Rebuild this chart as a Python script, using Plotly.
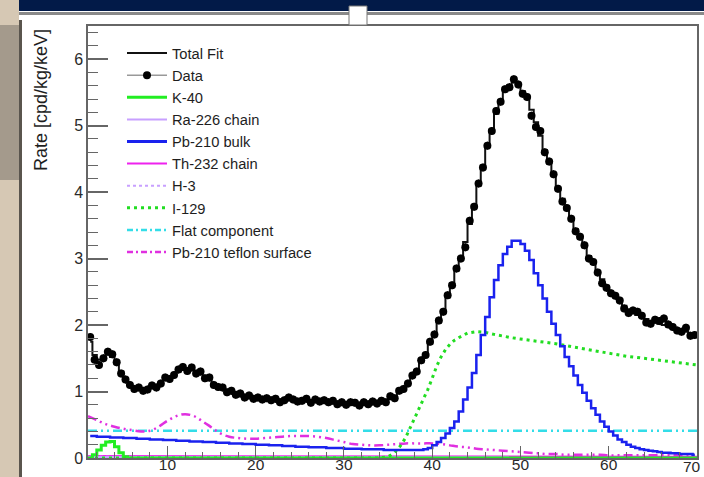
import plotly.graph_objects as go

# ---------------- data ----------------
bin_centers = [1.25 + 0.5 * i for i in range(138)]

data_rate = [1.82, 1.48, 1.40, 1.50, 1.60, 1.56, 1.44, 1.27, 1.18, 1.10,
             1.04, 1.06, 1.01, 1.03, 1.09, 1.06, 1.12, 1.21, 1.19, 1.25,
             1.33, 1.37, 1.31, 1.36, 1.27, 1.30, 1.20, 1.21, 1.10, 1.07,
             1.06, 0.99, 1.01, 0.95, 0.97, 0.91, 0.94, 0.89, 0.91, 0.88,
             0.90, 0.87, 0.89, 0.84, 0.87, 0.91, 0.88, 0.85, 0.86, 0.89,
             0.83, 0.88, 0.85, 0.87, 0.84, 0.86, 0.81, 0.84, 0.80, 0.84,
             0.83, 0.79, 0.84, 0.81, 0.85, 0.82, 0.86, 0.84, 0.93, 0.90,
             1.01, 1.04, 1.12, 1.24, 1.30, 1.47, 1.55, 1.75, 1.86, 2.07,
             2.20, 2.45, 2.60, 2.85, 3.00, 3.17, 3.57, 3.78, 4.13, 4.37,
             4.70, 4.92, 5.22, 5.36, 5.55, 5.58, 5.70, 5.62, 5.48, 5.43,
             5.15, 4.98, 4.92, 4.60, 4.46, 4.27, 4.05, 3.86, 3.76, 3.60,
             3.41, 3.33, 3.20, 3.00, 2.95, 2.79, 2.63, 2.56, 2.48, 2.44,
             2.37, 2.25, 2.18, 2.22, 2.20, 2.14, 2.04, 2.02, 2.08, 2.06,
             2.10, 2.01, 1.97, 1.92, 1.90, 1.96, 1.84, 1.85]

total_fit = [1.75, 1.55, 1.48, 1.52, 1.56, 1.52, 1.42, 1.30, 1.20, 1.12,
             1.07, 1.04, 1.03, 1.04, 1.07, 1.10, 1.14, 1.18, 1.22, 1.26,
             1.30, 1.33, 1.34, 1.33, 1.30, 1.26, 1.22, 1.17, 1.12, 1.08,
             1.04, 1.01, 0.99, 0.97, 0.95, 0.93, 0.92, 0.91, 0.90, 0.90,
             0.89, 0.89, 0.88, 0.88, 0.88, 0.88, 0.87, 0.87, 0.87, 0.87,
             0.86, 0.86, 0.86, 0.85, 0.85, 0.84, 0.84, 0.83, 0.83, 0.82,
             0.82, 0.82, 0.82, 0.82, 0.82, 0.83, 0.84, 0.86, 0.89, 0.93,
             0.98, 1.05, 1.13, 1.22, 1.32, 1.44, 1.57, 1.72, 1.88, 2.04,
             2.22, 2.42, 2.63, 2.82, 3.02, 3.25, 3.52, 3.80, 4.10, 4.40,
             4.68, 4.94, 5.18, 5.38, 5.52, 5.61, 5.65, 5.63, 5.52, 5.40,
             5.24, 5.05, 4.85, 4.63, 4.43, 4.25, 4.07, 3.90, 3.74, 3.59,
             3.44, 3.30, 3.17, 3.04, 2.92, 2.80, 2.69, 2.59, 2.50, 2.42,
             2.35, 2.29, 2.24, 2.19, 2.15, 2.12, 2.09, 2.06, 2.04, 2.02,
             2.00, 1.98, 1.96, 1.94, 1.92, 1.90, 1.88, 1.86]

pb210_bulk = [0.33, 0.33, 0.32, 0.32, 0.32, 0.31, 0.31, 0.31, 0.30, 0.30,
              0.30, 0.29, 0.29, 0.29, 0.28, 0.28, 0.28, 0.27, 0.27, 0.27,
              0.26, 0.26, 0.26, 0.25, 0.25, 0.25, 0.24, 0.24, 0.24, 0.23,
              0.23, 0.23, 0.22, 0.22, 0.22, 0.21, 0.21, 0.21, 0.20, 0.20,
              0.20, 0.19, 0.19, 0.19, 0.18, 0.18, 0.18, 0.17, 0.17, 0.17,
              0.16, 0.16, 0.16, 0.16, 0.15, 0.15, 0.15, 0.15, 0.14, 0.14,
              0.14, 0.14, 0.13, 0.13, 0.13, 0.13, 0.13, 0.12, 0.12, 0.12,
              0.12, 0.12, 0.12, 0.12, 0.12, 0.12, 0.13, 0.15, 0.19, 0.24,
              0.30, 0.37, 0.45, 0.55, 0.70, 0.88, 1.06, 1.28, 1.55, 1.85,
              2.12, 2.42, 2.68, 2.90, 3.07, 3.18, 3.27, 3.27, 3.22, 3.12,
              2.98, 2.78, 2.60, 2.40, 2.20, 2.02, 1.85, 1.68, 1.52, 1.38,
              1.24, 1.10, 0.98, 0.86, 0.75, 0.65, 0.55, 0.47, 0.40, 0.34,
              0.28, 0.24, 0.20, 0.17, 0.15, 0.13, 0.12, 0.11, 0.10, 0.09,
              0.08, 0.08, 0.07, 0.07, 0.06, 0.06, 0.06, 0.05]

k40_energy = [1.25, 1.75, 2.25, 2.75, 3.25, 3.75, 4.25, 4.75, 5.25, 5.75, 70.0]
k40_rate = [0.00, 0.05, 0.12, 0.19, 0.24, 0.25, 0.17, 0.08, 0.02, 0.00, 0.00]

i129_energy = [1, 34, 35, 35.5, 36, 36.5, 37, 37.5, 38, 38.5, 39, 39.5, 40,
               40.5, 41, 41.5, 42, 42.5, 43, 43.5, 44, 45, 46, 47, 48, 49,
               50, 52, 54, 56, 58, 60, 62, 64, 66, 68, 70]
i129_rate = [0.00, 0.00, 0.02, 0.06, 0.12, 0.20, 0.31, 0.45, 0.59, 0.73,
             0.88, 1.03, 1.20, 1.38, 1.52, 1.63, 1.71, 1.77, 1.81, 1.85,
             1.88, 1.90, 1.89, 1.86, 1.83, 1.81, 1.79, 1.76, 1.72, 1.67,
             1.62, 1.57, 1.53, 1.50, 1.47, 1.43, 1.40]

flat_energy = [1, 70]
flat_rate = [0.41, 0.41]

teflon_energy = list(range(1, 71))
teflon_rate = [0.63, 0.57, 0.51, 0.47, 0.44, 0.42, 0.40, 0.41, 0.47, 0.56,
               0.63, 0.66, 0.63, 0.55, 0.46, 0.37, 0.32, 0.30, 0.29, 0.29,
               0.30, 0.31, 0.32, 0.33, 0.33, 0.33, 0.32, 0.30, 0.27, 0.24,
               0.21, 0.20, 0.19, 0.19, 0.20, 0.21, 0.22, 0.22, 0.22, 0.22,
               0.21, 0.19, 0.17, 0.16, 0.14, 0.13, 0.12, 0.11, 0.10, 0.09,
               0.08, 0.07, 0.06, 0.06, 0.05, 0.05, 0.05, 0.05, 0.05, 0.04,
               0.04, 0.04, 0.04, 0.04, 0.04, 0.04, 0.04, 0.04, 0.04, 0.04]

th232_energy = [1, 10, 20, 30, 40, 50, 60, 70]
th232_rate = [0.03, 0.03, 0.025, 0.02, 0.02, 0.02, 0.02, 0.02]
ra226_energy = [1, 20, 40, 70]
ra226_rate = [0.015, 0.012, 0.01, 0.01]
h3_energy = [1, 5, 10, 15, 18, 70]
h3_rate = [0.02, 0.015, 0.01, 0.005, 0.0, 0.0]

x_ticks = [10, 20, 30, 40, 50, 60, 70]
y_ticks = [0, 1, 2, 3, 4, 5, 6]

# ---------------- layout helpers ----------------
W, H = 704, 477
L, R, T, B = 88, 697, 26, 458


def px(xp):
    return (xp - L) / (R - L)


def py(yp):
    return (B - yp) / (B - T)


FONT = "Liberation Sans, Arial, Helvetica, sans-serif"
TXT = "#1e1e1e"
AX = "#666666"
TICK_TXT = "#2a2a2a"

fig = go.Figure()

# legend entries (no data; legend only) - added first so the legend order is fixed
legend_specs = [
    ("Total Fit", dict(color="#111111", width=2), "lines"),
    ("Data", dict(color="#999999", width=1.5), "lines+markers"),
    ("K-40", dict(color="#22ee22", width=3), "lines"),
    ("Ra-226 chain", dict(color="#c8a0ff", width=2), "lines"),
    ("Pb-210 bulk", dict(color="#1a22ee", width=3), "lines"),
    ("Th-232 chain", dict(color="#ee22ee", width=2), "lines"),
    ("H-3", dict(color="#c8a0ff", width=2, dash="3px,3px"), "lines"),
    ("I-129", dict(color="#22dd22", width=3, dash="3px,4px"), "lines"),
    ("Flat component", dict(color="#33dde8", width=2.5, dash="6px,3px,2px,3px"), "lines"),
    ("Pb-210 teflon surface", dict(color="#e030e0", width=2.5, dash="6px,3px,2px,3px"), "lines"),
]
for name, ln, mode in legend_specs:
    fig.add_trace(go.Scatter(x=[None], y=[None], mode=mode, name=name, line=ln,
                             marker=dict(color="#000000", size=8), showlegend=True))

# components
fig.add_trace(go.Scatter(x=th232_energy, y=th232_rate, mode="lines", name="Th-232 chain",
                         line=dict(color="#ee22ee", width=2), showlegend=False))
fig.add_trace(go.Scatter(x=ra226_energy, y=ra226_rate, mode="lines", name="Ra-226 chain",
                         line=dict(color="#c8a0ff", width=2), showlegend=False))
fig.add_trace(go.Scatter(x=h3_energy, y=h3_rate, mode="lines", name="H-3",
                         line=dict(color="#c8a0ff", width=2, dash="dot"), showlegend=False))
fig.add_trace(go.Scatter(x=flat_energy, y=flat_rate, mode="lines", name="Flat component",
                         line=dict(color="#33dde8", width=2.5, dash="9px,4px,2px,4px,2px,4px"),
                         showlegend=False))
fig.add_trace(go.Scatter(x=teflon_energy, y=teflon_rate, mode="lines", name="Pb-210 teflon surface",
                         line=dict(color="#e030e0", width=2.5, dash="9px,4px,2px,4px,2px,4px",
                                   shape="spline"),
                         showlegend=False))
fig.add_trace(go.Scatter(x=k40_energy, y=k40_rate, mode="lines", name="K-40",
                         line=dict(color="#22ee22", width=3, shape="hvh"), showlegend=False))
fig.add_trace(go.Scatter(x=i129_energy, y=i129_rate, mode="lines", name="I-129",
                         line=dict(color="#22dd22", width=3, dash="3px,4px"), showlegend=False))
fig.add_trace(go.Scatter(x=bin_centers, y=pb210_bulk, mode="lines", name="Pb-210 bulk",
                         line=dict(color="#1a22ee", width=2.5, shape="hvh"), showlegend=False))
fig.add_trace(go.Scatter(x=bin_centers, y=total_fit, mode="lines", name="Total Fit",
                         line=dict(color="#111111", width=2, shape="hvh"), showlegend=False))
fig.add_trace(go.Scatter(x=bin_centers, y=data_rate, mode="markers", name="Data",
                         marker=dict(color="#000000", size=8),
                         error_y=dict(type="constant", value=0.06, color="#000000",
                                      thickness=1, width=0),
                         showlegend=False))

shapes = [
    # top navy band and grey rule
    dict(type="rect", xref="paper", yref="paper", x0=px(18), x1=px(704), y0=py(11), y1=py(0),
         fillcolor="#021a48", line=dict(width=0), layer="above"),
    dict(type="rect", xref="paper", yref="paper", x0=px(18), x1=px(704), y0=py(15), y1=py(12),
         fillcolor="#8a8a8a", line=dict(width=0), layer="above"),
    dict(type="rect", xref="paper", yref="paper", x0=px(349), x1=px(367), y0=py(25), y1=py(6),
         fillcolor="#ffffff", line=dict(color="#777777", width=1), layer="above"),
    # left photo strip
    dict(type="rect", xref="paper", yref="paper", x0=px(0), x1=px(19), y0=py(477), y1=py(0),
         fillcolor="#d6c8b4", line=dict(width=0), layer="above"),
    dict(type="rect", xref="paper", yref="paper", x0=px(0), x1=px(19), y0=py(180), y1=py(25),
         fillcolor="#a49a8c", line=dict(width=0), layer="above"),
    dict(type="rect", xref="paper", yref="paper", x0=px(19), x1=px(22), y0=py(477), y1=py(20),
         fillcolor="#5a554e", line=dict(width=0), layer="above"),
]

# the last x tick label sits at the frame edge; it is drawn as an annotation pulled slightly
# inward so that it stays inside the page (as in the reference)
x_ticktext = [str(v) for v in x_ticks[:-1]] + [""]

fig.update_layout(
    width=W, height=H,
    margin=dict(l=L, r=W - R, t=T, b=H - B, pad=0, autoexpand=False),
    paper_bgcolor="#ffffff", plot_bgcolor="#ffffff",
    font=dict(family=FONT, color=TXT, size=15),
    showlegend=True,
    legend=dict(x=px(122), y=py(37), xanchor="left", yanchor="top",
                bgcolor="rgba(0,0,0,0)", borderwidth=0,
                font=dict(family=FONT, size=14.7, color=TXT),
                itemwidth=40, traceorder="normal"),
    xaxis=dict(range=[1, 70], tickvals=x_ticks, ticktext=x_ticktext,
               ticks="inside", ticklen=12, tickwidth=1, tickcolor=AX,
               showline=True, linecolor=AX, linewidth=1.5, mirror=True,
               showgrid=False, zeroline=False, ticklabelstandoff=-8, automargin=False,
               tickfont=dict(family=FONT, size=15.5, color=TICK_TXT),
               minor=dict(ticks="inside", dtick=2, ticklen=6, tickcolor=AX, tickwidth=1)),
    yaxis=dict(range=[0, 6.5], tickvals=y_ticks, ticktext=[str(v) for v in y_ticks],
               ticks="inside", ticklen=20, tickwidth=1.5, tickcolor=AX,
               showline=True, linecolor=AX, linewidth=1.5, mirror=True,
               showgrid=False, zeroline=False, automargin=False,
               tickfont=dict(family=FONT, size=16, color=TICK_TXT),
               minor=dict(ticks="inside", dtick=0.2, ticklen=10, tickcolor=AX, tickwidth=1)),
    shapes=shapes,
    annotations=[
        dict(text="Rate [cpd/kg/keV]", textangle=-90, xref="paper", yref="paper",
             x=px(41), y=py(27), xanchor="center", yanchor="top", showarrow=False,
             font=dict(family=FONT, size=18, color=TXT)),
        dict(text=str(x_ticks[-1]), xref="x", yref="paper", x=x_ticks[-1], y=0,
             xanchor="center", yanchor="middle", xshift=-5, yshift=-8, showarrow=False,
             font=dict(family=FONT, size=15.5, color=TICK_TXT)),
    ],
)

fig.write_html("out.html")
